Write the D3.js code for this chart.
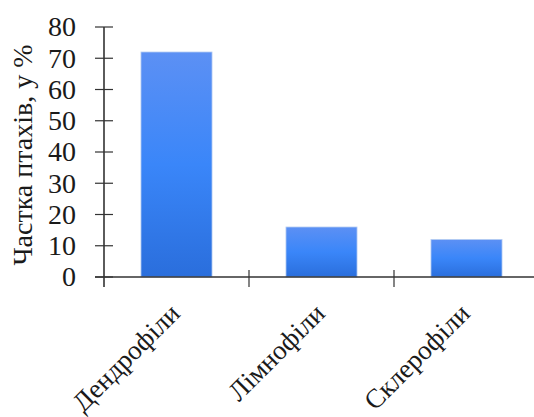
<!DOCTYPE html>
<html>
<head>
<meta charset="utf-8">
<script src="https://cdn.jsdelivr.net/npm/d3@7/dist/d3.min.js"></script>
<style>
  html, body { margin: 0; padding: 0; background: #fff; }
  svg { display: block; }
  text { font-family: "Liberation Serif", "Times New Roman", serif; fill: #1a1a1a; }
</style>
</head>
<body>
<svg id="chart" width="534" height="417"></svg>
<script>
// Share of bird groups by habitat preference
const categories = ["Дендрофіли", "Лімнофіли", "Склерофіли"];
const shares = [72, 16, 12];
const yTicks = [0, 10, 20, 30, 40, 50, 60, 70, 80];
const yTitle = "Частка птахів, у %";

const svg = d3.select("#chart");
const axisColor = "#333";

const x0 = 104, x1 = 539, yTop = 27, yBottom = 277;

const x = d3.scaleBand()
  .domain(categories)
  .range([x0, x1])
  .paddingInner(0.51)
  .paddingOuter(0.255);

const y = d3.scaleLinear().domain([0, 80]).range([yBottom, yTop]);

// Vertical gradient used by each bar
const defs = svg.append("defs");
const grad = defs.append("linearGradient")
  .attr("id", "barFill")
  .attr("x1", 0).attr("y1", 0).attr("x2", 0).attr("y2", 1);
grad.append("stop").attr("offset", "0%").attr("stop-color", "#5c90f4");
grad.append("stop").attr("offset", "50%").attr("stop-color", "#3a86f9");
grad.append("stop").attr("offset", "100%").attr("stop-color", "#2a6edc");

// Bars
svg.append("g").selectAll("rect")
  .data(categories)
  .join("rect")
  .attr("x", d => x(d))
  .attr("y", (d, i) => y(shares[i]))
  .attr("width", x.bandwidth())
  .attr("height", (d, i) => y(0) - y(shares[i]))
  .attr("fill", "url(#barFill)")
  .attr("stroke", "#b4ccf2")
  .attr("stroke-width", 0.8);

// Y axis: labels from d3.axisLeft, ticks crossing the axis line
const yAxis = svg.append("g")
  .attr("transform", `translate(${x0},0)`)
  .call(d3.axisLeft(y).tickValues(yTicks).tickSize(0).tickPadding(28));
yAxis.select(".domain").remove();
yAxis.selectAll("text")
  .attr("font-family", "Liberation Serif, Times New Roman, serif")
  .attr("font-size", 28)
  .attr("fill", "#1a1a1a");

svg.append("g").selectAll("line")
  .data(yTicks)
  .join("line")
  .attr("x1", x0 - 9).attr("x2", x0 + 9)
  .attr("y1", d => y(d)).attr("y2", d => y(d))
  .attr("stroke", axisColor).attr("stroke-width", 1.2);

svg.append("line")
  .attr("x1", x0).attr("x2", x0)
  .attr("y1", yTop).attr("y2", yBottom + 10)
  .attr("stroke", axisColor).attr("stroke-width", 1.6);

// X axis line and category separators
svg.append("line")
  .attr("x1", x0 - 9).attr("x2", 534)
  .attr("y1", yBottom).attr("y2", yBottom)
  .attr("stroke", axisColor).attr("stroke-width", 1.6);

const sepPositions = categories.slice(1).map(c => x(c) - x.step() * x.paddingInner() / 2);
svg.append("g").selectAll("line")
  .data(sepPositions)
  .join("line")
  .attr("x1", d => d).attr("x2", d => d)
  .attr("y1", yBottom - 7).attr("y2", yBottom + 10)
  .attr("stroke", axisColor).attr("stroke-width", 1.2);

// Rotated category labels
svg.append("g").selectAll("text")
  .data(categories)
  .join("text")
  .attr("transform", d => `translate(${x(d) + x.bandwidth() / 2 + 5},${yBottom + 38}) rotate(-45)`)
  .attr("text-anchor", "end")
  .attr("font-size", 27)
  .text(d => d);

// Y axis title
svg.append("text")
  .attr("transform", `translate(32,155) rotate(-90)`)
  .attr("text-anchor", "middle")
  .attr("font-size", 28)
  .text(yTitle);
</script>
</body>
</html>
